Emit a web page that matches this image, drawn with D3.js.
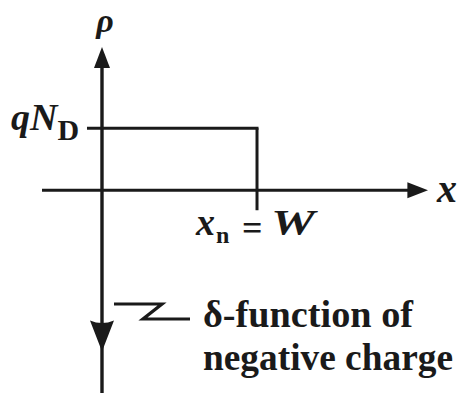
<!DOCTYPE html>
<html>
<head>
<meta charset="utf-8">
<script src="https://cdn.jsdelivr.net/npm/d3@7"></script>
<style>
  html, body { margin: 0; padding: 0; background: #fff; }
  svg { display: block; }
</style>
</head>
<body>
<svg id="chart" width="461" height="394"></svg>
<script>
// Charge density of a one-sided junction: uniform donor charge qN_D from x = 0 to x = W,
// balanced by a delta function of negative charge at x = 0. Positions are in units of W,
// charge density in units of qN_D.
const regionEdges = [0, 1];          // start and end of the depleted region (x / W)
const regionDensity = [1];           // rho / qN_D inside the region
const deltaPosition = [0];           // where the negative sheet charge sits
const deltaArrowLength = [-2.6];     // drawn height of the delta-function arrow
const yTickLabels = ["qN", "D"];     // label for rho = qN_D
const xTickLabels = ["x", "n", "=", "W"];
const axisNames = ["x", "ρ"];
const noteLines = ["δ-function of", "negative charge"];

const svg = d3.select("#chart");
const ink = "#1a1a1a";
const serif = "'Liberation Serif', 'DejaVu Serif', serif";

// scales: data units -> pixels
const x = d3.scaleLinear().domain([-0.387, 2.103]).range([42, 428]);
const y = d3.scaleLinear().domain([-3.27, 2.31]).range([393, 47]);

// horizontal axis
svg.append("line")
  .attr("x1", x(-0.387)).attr("x2", x(2.0))
  .attr("y1", y(0)).attr("y2", y(0))
  .attr("stroke", ink).attr("stroke-width", 3);
// vertical axis, running through the delta function
svg.append("line")
  .attr("x1", x(0)).attr("x2", x(0))
  .attr("y1", y(2.15)).attr("y2", y(-3.27))
  .attr("stroke", ink).attr("stroke-width", 3.4);

// arrow heads
const tri = (pts) => d3.line()(pts) + "Z";
svg.append("path") // +rho
  .attr("d", tri([[x(0), y(2.31)], [x(0) - 8, y(1.97)], [x(0) + 8, y(1.97)]]))
  .attr("fill", ink);
svg.append("path") // +x
  .attr("d", tri([[x(2.103), y(0)], [x(1.97), y(0) - 8], [x(1.97), y(0) + 8]]))
  .attr("fill", ink);

// delta function of negative charge (downward arrow)
const dTip = y(deltaArrowLength[0]);
const dx0 = x(deltaPosition[0]);
svg.append("path")
  .attr("d", `M${dx0},${dTip} L${dx0 - 12},${dTip - 31} Q${dx0},${dTip - 26} ${dx0 + 12},${dTip - 31} Z`)
  .attr("fill", ink);

// uniform donor charge block
const rho = regionDensity[0];
svg.append("line") // tick at qN_D, continuing as the top of the block
  .attr("x1", x(0) - 15).attr("x2", x(regionEdges[1]) + 1.5)
  .attr("y1", y(rho)).attr("y2", y(rho))
  .attr("stroke", ink).attr("stroke-width", 3);
svg.append("line") // edge at x = W, with a short tick below the axis
  .attr("x1", x(regionEdges[1])).attr("x2", x(regionEdges[1]))
  .attr("y1", y(rho)).attr("y2", y(0) + 20)
  .attr("stroke", ink).attr("stroke-width", 3);

const label = (sel) => sel.attr("font-family", serif).attr("fill", ink).attr("font-weight", "bold");

// axis names
svg.append("text").call(label)
  .attr("x", x(0) + 3).attr("y", 32)
  .attr("text-anchor", "middle")
  .attr("font-size", 34).attr("font-style", "italic")
  .text(axisNames[1]);
svg.append("text").call(label)
  .attr("x", 437).attr("y", 202)
  .attr("font-size", 40).attr("font-style", "italic")
  .text(axisNames[0]);

// qN_D tick label
const yl = svg.append("text").call(label).attr("x", 11).attr("y", 130);
yl.append("tspan").attr("font-size", 38).attr("font-style", "italic").text(yTickLabels[0]);
yl.append("tspan").attr("font-size", 30).attr("dy", 10).attr("dx", 0).text(yTickLabels[1]);

// x_n = W label under the block edge
const xw = x(regionEdges[1]);
svg.append("text").call(label).attr("x", xw - 61).attr("y", 235)
  .attr("font-size", 38).attr("font-style", "italic").text(xTickLabels[0]);
svg.append("text").call(label).attr("x", xw - 41).attr("y", 243)
  .attr("font-size", 24).text(xTickLabels[1]);
svg.append("text").call(label).attr("x", xw - 15).attr("y", 240)
  .attr("font-size", 36).text(xTickLabels[2]);
svg.append("text").call(label).attr("x", xw + 14).attr("y", 235)
  .attr("font-size", 36).attr("font-style", "italic")
  .attr("textLength", 44).attr("lengthAdjust", "spacingAndGlyphs")
  .text(xTickLabels[3]);

// leader from the delta arrow to its note
svg.append("path")
  .attr("d", d3.line()([[114, 304], [162, 304], [143, 319], [190, 319]]))
  .attr("fill", "none").attr("stroke", ink).attr("stroke-width", 3.2)
  .attr("stroke-linejoin", "miter");

svg.selectAll("text.note").data(noteLines).join("text")
  .attr("class", "note").call(label)
  .attr("x", 203).attr("y", (d, i) => 327 + i * 43)
  .attr("font-size", 37)
  .attr("textLength", (d, i) => [210, 250][i])
  .attr("lengthAdjust", "spacingAndGlyphs")
  .text(d => d);
</script>
</body>
</html>
